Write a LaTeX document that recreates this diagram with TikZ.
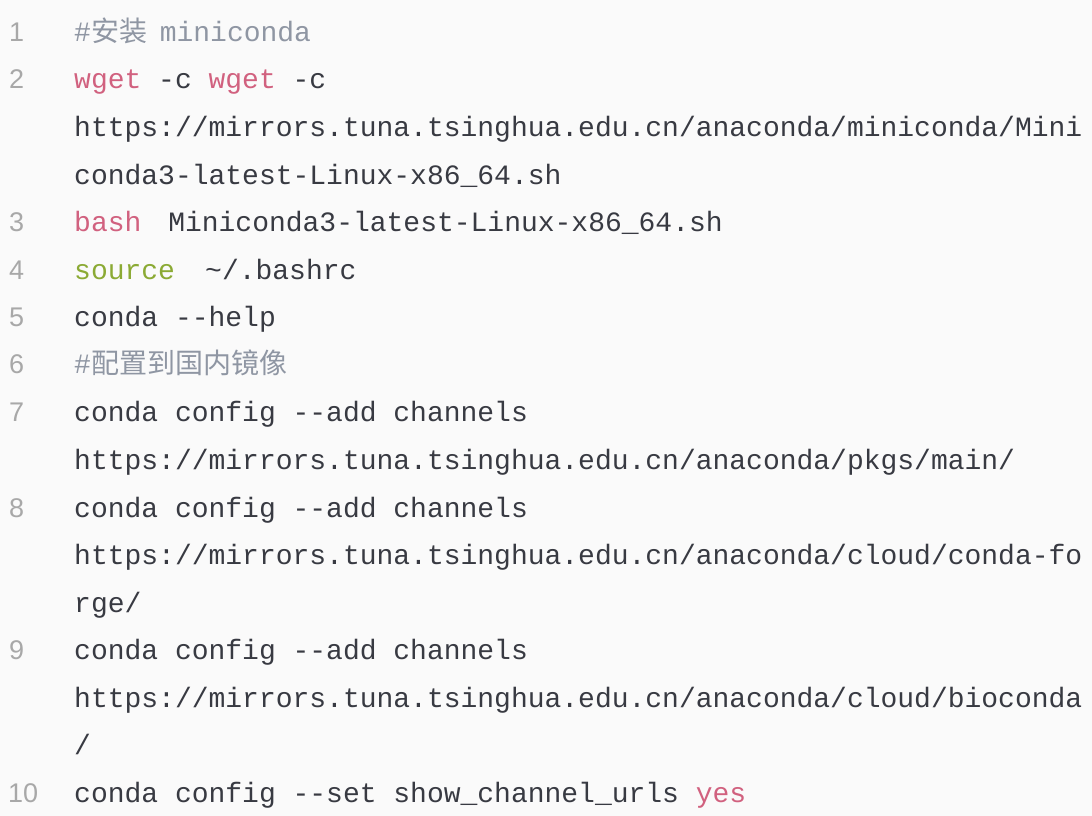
\documentclass[tikz,border=0pt]{standalone}
\usepackage{fontspec}
\setmainfont{Liberation Sans}
\newfontfamily\codefont{Liberation Mono}
\newfontfamily\cjk{Noto Sans CJK SC}
\definecolor{bgc}{HTML}{FAFAFA}
\definecolor{txt}{HTML}{383A42}
\definecolor{cmt}{HTML}{8F96A3}
\definecolor{kw}{HTML}{D1617F}
\definecolor{grn}{HTML}{8BAA34}
\definecolor{lnc}{HTML}{A8A8A8}
\tikzset{
 code/.style={anchor=base west,inner sep=0pt,font=\codefont\fontsize{28}{28}\selectfont,text=txt},
 lnum/.style={anchor=base west,inner sep=0pt,font=\fontsize{27}{27}\selectfont,text=lnc},
}
\newcommand\cx[1]{{74+#1*16.8}}
\begin{document}
\begin{tikzpicture}[x=1pt,y=1pt]
\fill[bgc] (0,0) rectangle (1092,816);
\useasboundingbox (0,0) rectangle (1092,816);
% line numbers
\node[lnum] (n1) at (9,816-42) {1};
\node[lnum] (n2) at (9,816-89) {2};
\node[lnum] (n3) at (9,816-232) {3};
\node[lnum] (n4) at (9,816-280) {4};
\node[lnum] (n5) at (9,816-327) {5};
\node[lnum] (n6) at (9,816-374) {6};
\node[lnum] (n7) at (9,816-422) {7};
\node[lnum] (n8) at (9,816-518) {8};
\node[lnum] (n9) at (9,816-660) {9};
\node[lnum] (n10) at (8,816-803) {10};
% code
\node[code,text=cmt] (l1) at (74,816-42) {\#{\cjk\fontsize{28}{28}\selectfont 安装}\hspace{-4pt} miniconda};
\node[code,text=kw] (l2a) at (\cx{0},816-89) {wget};
\node[code] (l2b) at (\cx{5},816-89) {-c};
\node[code,text=kw] (l2c) at (\cx{8},816-89) {wget};
\node[code] (l2d) at (\cx{13},816-89) {-c};
\node[code] (l2e) at (74,816-137) {https://mirrors.tuna.tsinghua.edu.cn/anaconda/miniconda/Mini};
\node[code] (l2f) at (74,816-185) {conda3-latest-Linux-x86\_64.sh};
\node[code,text=kw] (l3a) at (\cx{0},816-232) {bash};
\node[code] (l3b) at (\cx{5.6},816-232) {Miniconda3-latest-Linux-x86\_64.sh};
\node[code,text=grn] (l4a) at (\cx{0},816-280) {source};
\node[code] (l4b) at (\cx{7.8},816-280) {\textasciitilde/.bashrc};
\node[code] (l5) at (74,816-327) {conda --help};
\node[code,text=cmt] (l6) at (74,816-374) {\#{\cjk\fontsize{28}{28}\selectfont 配置到国内镜像}};
\node[code] (l7a) at (74,816-422) {conda config --add channels};
\node[code] (l7b) at (74,816-470) {https://mirrors.tuna.tsinghua.edu.cn/anaconda/pkgs/main/};
\node[code] (l8a) at (74,816-518) {conda config --add channels};
\node[code] (l8b) at (74,816-565) {https://mirrors.tuna.tsinghua.edu.cn/anaconda/cloud/conda-fo};
\node[code] (l8c) at (74,816-613) {rge/};
\node[code] (l9a) at (74,816-660) {conda config --add channels};
\node[code] (l9b) at (74,816-708) {https://mirrors.tuna.tsinghua.edu.cn/anaconda/cloud/bioconda};
\node[code] (l9c) at (74,816-755) {/};
\node[code] (l10a) at (74,816-803) {conda config --set show\_channel\_urls};
\node[code,text=kw] (l10b) at (\cx{37},816-803) {yes};
\end{tikzpicture}
\end{document}
